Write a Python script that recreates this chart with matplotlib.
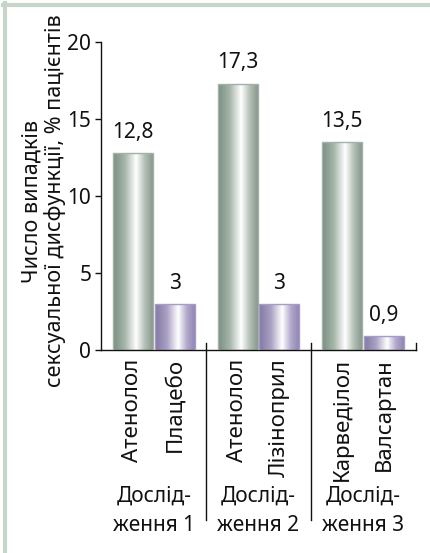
import matplotlib
matplotlib.use("Agg")
import matplotlib.pyplot as plt
import numpy as np
from matplotlib.colors import LinearSegmentedColormap
from matplotlib.lines import Line2D
from matplotlib import transforms

plt.rcParams['font.family'] = ['Noto Sans', 'DejaVu Sans']

# data
groups = ['Дослід-\nження 1', 'Дослід-\nження 2', 'Дослід-\nження 3']
drug_a = ['Атенолол', 'Атенолол', 'Карведілол']
drug_b = ['Плацебо', 'Лізіноприл', 'Валсартан']
values_a = [12.8, 17.3, 13.5]
values_b = [3.0, 3.0, 0.9]
value_labels_a = ['12,8', '17,3', '13,5']
value_labels_b = ['3', '3', '0,9']

green_cmap = LinearSegmentedColormap.from_list(
    'grn', [(0, '#7a8f80'), (0.3, '#a7b6aa'), (0.58, '#ffffff'),
            (0.8, '#b3bfb5'), (1, '#89988c')])
purple_cmap = LinearSegmentedColormap.from_list(
    'prp', [(0, '#8277a3'), (0.3, '#aaa1c4'), (0.58, '#ffffff'),
            (0.8, '#b2a9cc'), (1, '#9186b2')])

fig = plt.figure(figsize=(4.30, 5.53), dpi=100)
ax = fig.add_axes([101 / 430, 1 - 350 / 553, 315 / 430, 308 / 553])

spacing = 1.05
width = 0.4
off = 0.21
x = np.arange(len(groups)) * spacing

grad = np.linspace(0, 1, 256).reshape(1, -1)


def gradient_bars(xs, vals, cmap, edge):
    bars = ax.bar(xs, vals, width, color='none', edgecolor=edge, linewidth=1.0, zorder=3)
    for b in bars:
        x0, y0 = b.get_x(), b.get_y()
        im = ax.imshow(grad, cmap=cmap, aspect='auto', zorder=2,
                       extent=[x0, x0 + b.get_width(), y0, y0 + b.get_height()])
        im.set_clip_path(b)
    return bars


gradient_bars(x - off, values_a, green_cmap, '#a3b1a6')
gradient_bars(x + off, values_b, purple_cmap, '#a69dc6')

for xi, v, s in zip(x - off, values_a, value_labels_a):
    ax.annotate(s, (xi, v), xytext=(0, 11), textcoords='offset points',
                ha='center', va='baseline', fontsize=15, color='#111111')
for xi, v, s in zip(x + off, values_b, value_labels_b):
    ax.annotate(s, (xi, v), xytext=(0, 11), textcoords='offset points',
                ha='center', va='baseline', fontsize=15, color='#111111')

ax.set_xlim(-0.53, 2.63)
ax.set_ylim(0, 20)
ax.set_yticks([0, 5, 10, 15, 20])
ax.tick_params(axis='y', direction='out', length=4, width=1, labelsize=15,
               pad=3, colors='#111111')

ticks = list(x - off) + list(x + off)
labels = drug_a + drug_b
ax.set_xticks(ticks)
ax.set_xticklabels(labels, rotation=90, fontsize=16, va='top', ha='center')
ax.tick_params(axis='x', length=0, pad=6, colors='#111111')

for side in ['top', 'right']:
    ax.spines[side].set_visible(False)
for side in ['left', 'bottom']:
    ax.spines[side].set_linewidth(1.0)
    ax.spines[side].set_color('#111111')

trans = transforms.blended_transform_factory(ax.transData, ax.transAxes)
# group separators
for sx in (x[:-1] + x[1:]) / 2:
    ax.add_line(Line2D([sx, sx], [0.023, -0.552], transform=trans,
                       color='#111111', lw=1.0, clip_on=False))
# closing tick at right end of the x axis
ax.add_line(Line2D([2.63, 2.63], [0, 0.023], transform=trans,
                   color='#111111', lw=1.0, clip_on=False))

for xi, g in zip(x, groups):
    ax.text(xi, -0.44, g, transform=trans, ha='center', va='top',
            fontsize=15, linespacing=1.5, color='#111111')

fig.text(44 / 430, 1 - 201 / 553,
         'Число випадків\nсексуальної дисфункції, % пацієнтів',
         rotation=90, ha='center', va='center', fontsize=15.5,
         linespacing=1.1, color='#111111')

# light frame along left and top edges
fig.add_artist(Line2D([5 / 430, 5 / 430], [0, 1 - 3 / 553],
                      transform=fig.transFigure, color='#c6d5c7', lw=3))
fig.add_artist(Line2D([3 / 430, 1], [1 - 4.5 / 553, 1 - 4.5 / 553],
                      transform=fig.transFigure, color='#c6d5c7', lw=3))

fig.savefig('out.png', dpi=100)
